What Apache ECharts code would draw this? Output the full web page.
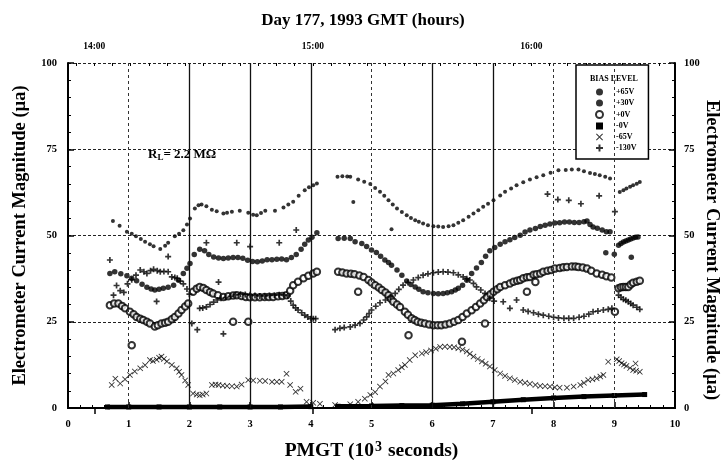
<!DOCTYPE html>
<html>
<head>
<meta charset="utf-8">
<script src="https://cdn.jsdelivr.net/npm/echarts@6/dist/echarts.min.js"></script>
<style>
  html, body { margin: 0; padding: 0; background: #fff; }
  #chart { width: 726px; height: 464px; }
</style>
</head>
<body>
<div id="chart"></div>
<script>
// ---- bias levels and axis text ----
const biasLevels = ['+65V', '+30V', '+0V', '-0V', '-65V', '-130V'];
const yTickValues = [0, 25, 50, 75, 100];
const hourValues = [14, 15, 16];
const hourLabels = ['14:00', '15:00', '16:00'];
const pmgtAtFirstHour = 0.433;      // PMGT (10^3 s) at 14:00 GMT
const solidGridX = [2, 3, 4, 6, 7];
const dashedGridX = [1, 5, 8, 9];
const yAxisTitle = 'Electrometer Current Magnitude (µa)';

// ---- electrometer current magnitude (µa) vs PMGT (10^3 s) ----
const p65 = [
  [0.74,54.2],[0.85,52.8],[0.97,51.1],[1.05,50.5],[1.12,49.8],[1.20,49.0],[1.27,48.2],[1.35,47.5],[1.41,46.9],[1.52,46.1],
  [1.60,47.0],[1.65,47.9],[1.76,49.8],[1.83,50.5],[1.90,51.5],[1.96,53.2],[2.01,54.9],[2.09,57.8],[2.15,58.8],[2.20,59.0],
  [2.28,58.5],[2.37,57.5],[2.45,57.0],[2.56,56.4],[2.62,56.6],[2.70,56.9],[2.83,57.2],[2.97,56.6],[3.05,56.0],[3.11,55.9],
  [3.18,56.5],[3.25,57.2],[3.41,57.2],[3.55,58.1],[3.63,59.0],[3.71,59.8],[3.80,61.5],[3.90,63.1],[3.97,64.0],[4.04,64.6],
  [4.10,65.1],
  [4.44,67.0],[4.52,67.2],[4.60,67.1],[4.65,67.0],[4.78,66.2],[4.88,65.6],[4.98,64.9],[5.06,63.8],[5.14,62.7],[5.21,61.5],
  [5.28,60.2],[5.35,59.0],[5.42,57.8],[5.50,56.8],[5.58,55.9],[5.65,55.1],[5.72,54.4],[5.78,54.0],[5.85,53.5],[5.93,53.0],
  [6.02,52.7],[6.10,52.6],[6.18,52.5],[6.27,52.7],[6.35,53.0],[6.43,53.7],[6.51,54.4],[6.60,55.4],[6.68,56.4],[6.76,57.3],
  [6.84,58.3],[6.92,59.2],[7.01,60.2],[7.12,61.6],[7.20,62.7],[7.30,63.6],[7.39,64.6],[7.50,65.4],[7.61,66.2],[7.72,66.9],
  [7.83,67.5],[7.95,68.2],[8.08,68.9],[8.20,69.0],[8.30,69.1],[8.41,69.1],[8.50,68.6],[8.60,68.1],[8.68,67.8],[8.76,67.5],
  [8.85,67.0],[8.93,66.5],
  [9.09,62.6],[9.15,63.1],[9.20,63.6],[9.26,64.1],[9.31,64.6],[9.37,65.0],[9.42,65.5],
  [4.70,59.7],[5.33,51.8]
];

const p30 = [
  [0.69,39.0],[0.77,39.5],[0.87,38.9],[0.97,38.3],[1.05,37.6],[1.13,36.9],[1.22,35.9],[1.30,35.0],[1.37,34.5],[1.43,34.2],
  [1.50,34.4],[1.57,34.7],[1.65,35.0],[1.74,35.6],[1.82,37.0],[1.90,39.0],[1.96,40.5],[2.01,41.9],[2.08,44.5],[2.17,46.0],
  [2.25,45.6],[2.32,44.5],[2.40,43.8],[2.48,43.5],[2.56,43.3],[2.64,43.5],[2.72,43.6],[2.80,43.6],[2.88,43.4],[2.96,42.8],
  [3.04,42.5],[3.12,42.4],[3.20,42.6],[3.28,43.0],[3.36,43.0],[3.44,43.1],[3.52,43.2],[3.60,43.0],[3.68,43.6],[3.76,44.5],
  [3.84,46.0],[3.90,47.5],[3.96,48.7],[4.02,49.5],[4.10,50.8],
  [4.45,49.1],[4.55,49.2],[4.65,49.1],[4.73,48.2],[4.84,47.7],[4.92,46.8],[5.00,45.8],[5.08,45.1],[5.15,44.0],[5.22,42.9],
  [5.28,42.2],[5.33,41.4],[5.42,40.0],[5.50,38.5],[5.58,36.8],[5.65,35.8],[5.72,35.1],[5.78,34.4],[5.85,33.7],[5.93,33.4],
  [6.02,33.2],[6.10,33.1],[6.18,33.2],[6.25,33.4],[6.32,33.7],[6.38,34.2],[6.43,34.7],[6.50,35.6],[6.57,37.0],[6.65,39.0],
  [6.73,40.6],[6.81,42.2],[6.88,44.0],[6.95,45.6],[7.03,46.5],[7.12,47.5],[7.20,48.2],[7.28,48.8],[7.36,49.4],[7.45,50.1],
  [7.53,51.0],[7.61,51.6],[7.70,52.0],[7.78,52.6],[7.86,53.0],[7.94,53.3],[8.02,53.6],[8.10,53.7],[8.18,53.9],[8.26,53.9],
  [8.34,53.8],[8.42,53.8],[8.50,54.0],[8.55,54.2],[8.60,53.2],[8.65,52.5],[8.72,52.1],[8.80,51.6],[8.87,51.1],[8.93,51.1],
  [9.07,47.2],[9.11,47.7],[9.15,48.1],[9.19,48.4],[9.23,48.7],[9.27,49.0],[9.31,49.3],[9.35,49.5],[9.39,49.6],
  [8.86,45.0],[9.00,44.6],[9.28,43.7]
];

const p0 = [
  [0.69,29.8],[0.76,30.3],[0.83,30.3],[0.89,29.6],[0.94,28.9],[1.02,27.9],[1.08,27.2],[1.13,26.4],[1.19,25.9],[1.24,25.5],
  [1.30,25.0],[1.35,24.5],[1.43,23.6],[1.48,24.0],[1.54,24.5],[1.60,24.7],[1.65,25.0],[1.71,25.7],[1.76,26.4],[1.82,27.4],
  [1.87,28.4],[1.93,29.4],[1.98,30.3],[2.06,33.7],[2.12,34.6],[2.17,35.1],[2.23,34.8],[2.28,34.2],[2.34,33.6],[2.39,33.2],
  [2.47,32.7],[2.56,32.2],[2.64,32.4],[2.72,32.6],[2.78,32.7],[2.86,32.5],[2.93,32.2],[3.00,32.1],[3.08,32.1],[3.16,32.1],
  [3.24,32.2],[3.31,32.2],[3.38,32.2],[3.46,32.4],[3.53,32.5],[3.60,32.7],[3.66,34.0],[3.71,35.6],[3.79,36.6],[3.88,37.6],
  [3.96,38.3],[4.04,39.0],[4.10,39.5],
  [4.45,39.5],[4.52,39.3],[4.59,39.0],[4.66,38.9],[4.72,38.8],[4.80,38.4],[4.87,38.0],[4.95,37.1],[5.00,36.4],[5.06,35.6],
  [5.12,34.9],[5.17,34.2],[5.23,33.5],[5.28,32.7],[5.32,31.7],[5.36,30.8],[5.42,30.0],[5.47,29.3],[5.55,27.9],[5.60,27.0],
  [5.66,26.0],[5.71,25.5],[5.76,25.0],[5.82,24.7],[5.88,24.5],[5.95,24.2],[6.02,24.0],[6.09,24.0],[6.15,24.0],[6.22,24.2],
  [6.29,24.5],[6.36,25.0],[6.43,25.5],[6.50,26.4],[6.57,27.4],[6.65,28.3],[6.72,29.3],[6.79,30.3],[6.85,31.2],[6.90,32.2],
  [6.96,33.0],[7.01,33.7],[7.07,34.4],[7.12,35.1],[7.20,35.6],[7.28,36.1],[7.34,36.6],[7.40,36.9],[7.45,37.1],[7.50,37.6],
  [7.56,37.9],[7.61,38.0],[7.67,38.6],[7.72,38.8],[7.78,39.0],[7.83,39.5],[7.90,39.8],[7.96,40.0],[8.02,40.4],[8.10,40.6],
  [8.16,40.8],[8.22,40.9],[8.30,41.0],[8.36,41.0],[8.41,40.9],[8.48,40.7],[8.55,40.4],[8.62,39.8],[8.71,39.0],[8.80,38.6],
  [8.87,38.2],[8.95,37.8],
  [9.07,34.7],[9.11,35.0],[9.15,35.1],[9.19,35.1],[9.23,35.1],[9.27,35.8],[9.31,36.3],[9.37,36.6],[9.42,36.9],
  [1.05,18.2],[2.72,25.0],[2.97,25.0],[4.78,33.7],[5.61,21.1],[6.49,19.2],[6.87,24.5],[7.56,33.7],[7.70,36.5],[9.01,27.9]
];

const m0 = [
  [0.65,0.3],[1.0,0.3],[1.5,0.3],[2.0,0.3],[2.5,0.3],[3.0,0.3],[3.5,0.3],[4.0,0.4],[4.2,null],
  [4.45,0.5],[5.0,0.6],[5.5,0.7],[6.0,0.8],[6.5,1.2],[7.0,1.8],[7.5,2.4],[8.0,2.9],[8.5,3.3],[9.0,3.6],[9.5,3.9]
];

const m65 = [
  [0.72,6.7],[0.78,8.5],[0.86,7.1],[0.94,8.3],[1.02,9.6],[1.10,10.6],[1.19,11.5],[1.27,12.4],[1.35,13.9],[1.40,13.6],
  [1.46,14.0],[1.50,14.6],[1.54,14.9],[1.58,14.2],[1.63,13.5],[1.71,12.5],[1.79,11.5],[1.83,10.5],[1.87,9.6],[1.93,8.0],
  [1.98,6.7],[2.06,4.2],[2.12,3.9],[2.17,3.7],[2.22,3.9],[2.28,4.2],[2.37,6.7],[2.43,6.8],[2.48,6.7],[2.55,6.5],
  [2.62,6.4],[2.70,6.3],[2.78,6.2],[2.86,6.8],[2.97,8.1],[3.05,8.0],[3.16,7.9],[3.25,7.8],[3.36,7.6],[3.44,7.6],
  [3.52,7.6],[3.60,9.9],[3.66,6.7],[3.75,4.7],[3.83,5.6],[3.93,1.8],[4.04,1.5],
  [4.15,1.2],[4.40,0.9],[4.65,1.1],[4.78,1.8],[4.89,2.7],[4.98,3.8],[5.06,4.6],[5.14,6.2],[5.23,7.7],[5.28,9.6],
  [5.36,10.0],[5.44,11.0],[5.50,11.8],[5.55,12.5],[5.63,13.9],[5.72,15.3],[5.83,15.8],[5.90,16.2],[5.98,16.7],[6.06,17.2],
  [6.13,17.7],[6.21,17.8],[6.29,17.7],[6.36,17.6],[6.43,17.3],[6.50,16.9],[6.57,16.4],[6.62,15.7],[6.68,14.9],[6.75,14.2],
  [6.82,13.5],[6.88,12.8],[6.95,12.0],[7.03,11.0],[7.12,10.0],[7.20,9.3],[7.28,8.6],[7.36,8.1],[7.45,7.6],[7.53,7.3],
  [7.61,7.0],[7.70,6.7],[7.78,6.4],[7.86,6.3],[7.94,6.2],[8.02,6.0],[8.10,5.9],[8.22,5.9],[8.33,6.2],[8.44,6.7],
  [8.50,7.3],[8.57,8.1],[8.64,8.3],[8.71,8.6],[8.77,9.1],[8.82,9.6],
  [9.04,14.1],[9.08,13.6],[9.12,13.0],[9.16,12.6],[9.20,12.2],[9.26,11.6],[9.31,11.0],[9.36,10.8],[9.42,10.5],
  [8.90,13.4],[9.35,12.9]
];

const m130 = [
  [0.75,32.7],[0.80,35.5],[0.86,34.0],[0.92,33.5],[0.98,36.0],[1.05,37.2],[1.12,38.5],[1.19,40.0],[1.25,39.5],[1.30,39.0],
  [1.36,39.8],[1.41,40.2],[1.47,39.8],[1.52,39.5],[1.58,39.6],[1.65,39.5],[1.71,38.0],[1.76,37.8],[1.80,37.6],[1.85,36.8],
  [1.90,36.0],[1.96,34.5],[2.00,33.0],
  [2.04,24.5],[2.13,22.7],[2.17,28.9],[2.22,29.0],[2.28,29.3],[2.34,30.0],[2.40,30.7],[2.46,31.3],[2.52,31.8],[2.60,32.0],
  [2.68,32.4],[2.76,32.8],[2.84,33.0],[2.92,32.9],[3.00,32.8],[3.08,32.6],[3.16,32.5],[3.24,32.5],[3.32,32.6],[3.40,32.7],
  [3.48,32.8],[3.56,32.8],[3.62,32.5],[3.67,31.0],[3.71,29.8],[3.75,29.0],[3.79,28.4],[3.85,27.6],[3.90,26.9],[3.95,26.4],
  [4.00,25.9],[4.04,25.9],[4.08,25.9],
  [4.40,22.7],[4.48,23.1],[4.55,23.3],[4.65,23.5],[4.73,24.0],[4.81,24.5],[4.87,25.5],[4.92,26.4],[4.96,27.4],[5.00,28.4],
  [5.07,29.5],[5.14,30.5],[5.23,31.3],[5.31,32.2],[5.39,33.2],[5.45,34.4],[5.52,35.6],[5.60,36.4],[5.69,37.1],[5.77,37.8],
  [5.85,38.5],[5.93,38.9],[6.02,39.2],[6.10,39.4],[6.18,39.5],[6.26,39.4],[6.35,39.2],[6.43,38.6],[6.51,38.0],[6.57,37.5],
  [6.62,37.1],[6.68,36.1],[6.73,35.1],[6.80,34.2],[6.87,33.2],[6.95,31.8],[7.02,31.0],
  [7.17,30.8],[7.28,28.9],[7.39,31.3],[7.50,28.4],[7.58,28.0],[7.67,27.6],[7.75,27.2],[7.83,26.9],[7.92,26.6],[8.00,26.3],
  [8.08,26.1],[8.17,26.0],[8.25,26.0],[8.33,26.0],[8.42,26.3],[8.50,26.6],[8.58,27.2],[8.65,27.9],[8.73,28.1],[8.82,28.4],
  [8.90,28.6],[8.96,28.9],
  [9.07,32.7],[9.11,32.1],[9.15,31.5],[9.19,31.2],[9.23,30.8],[9.27,30.3],[9.31,29.8],[9.37,29.2],[9.42,28.6],
  [0.69,42.9],[1.65,43.9],[1.46,30.9],[2.28,47.9],[2.48,36.5],[2.56,21.5],[2.78,47.9],[3.00,46.8],[3.48,47.9],[3.76,51.6],
  [7.90,62.0],[8.07,60.4],[8.25,60.2],[8.45,59.2],[8.75,61.5],[9.01,56.9]
];

// ---- drawing ----
const ink = '#000';
const serif = '"Liberation Serif", "DejaVu Serif", serif';
const crossPath = 'path://M1,0L5,4L9,0L10,1L6,5L10,9L9,10L5,6L1,10L0,9L4,5L0,1Z';
const plusPath = 'path://M3.6,0H6.4V3.6H10V6.4H6.4V10H3.6V6.4H0V3.6H3.6Z';

// top GMT axis shares the PMGT scale: 1 hour = 3.6 x 10^3 s
const hourMin = hourValues[0] - pmgtAtFirstHour / 3.6;
const hourMax = hourMin + 10 / 3.6;
const fiveMinTicks = [];
for (let m = Math.ceil(hourMin * 12); m <= Math.floor(hourMax * 12); m++) fiveMinTicks.push(m / 12);

const vGrid = solidGridX.map(v => ({ xAxis: v, lineStyle: { type: 'solid', width: 1.3, color: '#111' } }))
  .concat(dashedGridX.map(v => ({ xAxis: v, lineStyle: { type: [3, 3], width: 1, color: '#333' } })));

const labelFont = { color: ink, fontFamily: serif, fontWeight: 'bold', fontSize: 10.5 };
const nameFont = { color: ink, fontFamily: serif, fontWeight: 'bold', fontSize: 18.5 };

const chart = echarts.init(document.getElementById('chart'), null, { renderer: 'canvas' });
chart.setOption({
  animation: false,
  backgroundColor: '#fff',
  title: {
    text: 'Day 177, 1993 GMT (hours)',
    left: 'center', top: 7,
    textStyle: { color: ink, fontFamily: serif, fontWeight: 'bold', fontSize: 17 }
  },
  grid: { left: 68, right: 51, top: 63, bottom: 56, outerBoundsMode: 'none' },
  legend: {
    orient: 'vertical',
    left: 576, top: 65,
    padding: [23, 12, 7, 19],
    itemGap: 3,
    itemWidth: 7, itemHeight: 7,
    borderColor: ink, borderWidth: 1.5,
    backgroundColor: '#fff',
    textStyle: { color: ink, fontFamily: serif, fontWeight: 'bold', fontSize: 8, padding: [0, 0, 0, 8] },
    data: biasLevels.map((n, i) => i === 3 ? { name: n, icon: 'rect' } : { name: n })
  },
  graphic: [
    { type: 'text', left: 590, top: 75, z: 100,
      style: { text: 'BIAS LEVEL', fill: ink, font: 'bold 8px ' + serif } },
    { type: 'text', left: 148, top: 148, z: 100,
      style: {
        text: '{r|R}{s|L}{r|= 2.2 MΩ}',
        rich: {
          r: { fill: ink, font: 'bold 13px ' + serif },
          s: { fill: ink, font: 'bold 9px ' + serif, padding: [6, 0, 0, 0] }
        }
      } },
    // right-hand axis title, reading top to bottom
    { type: 'text', x: 712, y: 250, rotation: -Math.PI / 2, z: 100,
      style: { text: yAxisTitle, fill: ink, font: 'bold 18.5px ' + serif, align: 'center', verticalAlign: 'middle' } }
  ],
  xAxis: [
    {
      type: 'value', position: 'bottom', min: 0, max: 10, interval: 1,
      axisLine: { lineStyle: { color: ink, width: 2 } },
      axisTick: { inside: true, length: 6, lineStyle: { color: ink, width: 1.5 } },
      minorTick: { show: true, splitNumber: 5, length: 3, lineStyle: { color: ink, width: 1 } },
      axisLabel: Object.assign({ margin: 11 }, labelFont),
      splitLine: { show: false },
      name: '{n|PMGT (10}{sup|3}{n| seconds)}', nameLocation: 'middle', nameGap: 32,
      nameTextStyle: {
        rich: {
          n: { color: ink, fontFamily: serif, fontWeight: 'bold', fontSize: 19.5 },
          sup: { color: ink, fontFamily: serif, fontWeight: 'bold', fontSize: 14, padding: [0, 1, 8, 1] }
        }
      }
    },
    {
      type: 'value', position: 'top', min: hourMin, max: hourMax,
      axisLine: { lineStyle: { color: ink, width: 2 } },
      axisTick: { inside: true, length: 6, customValues: hourValues, lineStyle: { color: ink, width: 1.5 } },
      axisLabel: Object.assign({ margin: 11, customValues: hourValues,
        formatter: v => hourLabels[hourValues.indexOf(Math.round(v))] }, labelFont, { fontSize: 9.5 }),
      splitLine: { show: false }
    },
    {
      type: 'value', position: 'top', min: hourMin, max: hourMax,
      axisLine: { show: false },
      axisTick: { inside: true, length: 3, customValues: fiveMinTicks, lineStyle: { color: ink, width: 1 } },
      axisLabel: { show: false },
      splitLine: { show: false }
    }
  ],
  yAxis: [
    {
      type: 'value', position: 'left', min: 0, max: 100, interval: 25,
      axisLine: { lineStyle: { color: ink, width: 2 } },
      axisTick: { inside: true, length: 6, lineStyle: { color: ink, width: 1.5 } },
      minorTick: { show: true, splitNumber: 5, length: 3, lineStyle: { color: ink, width: 1 } },
      axisLabel: Object.assign({ margin: 11, formatter: v => yTickValues.includes(v) ? String(v) : '' }, labelFont),
      splitLine: { show: true, lineStyle: { color: '#222', type: [3, 2], width: 1 } },
      name: yAxisTitle, nameLocation: 'middle', nameGap: 38,
      nameTextStyle: nameFont
    },
    {
      type: 'value', position: 'right', min: 0, max: 100, interval: 25,
      axisLine: { lineStyle: { color: ink, width: 2 } },
      axisTick: { inside: true, length: 6, lineStyle: { color: ink, width: 1.5 } },
      minorTick: { show: true, splitNumber: 5, length: 3, lineStyle: { color: ink, width: 1 } },
      axisLabel: Object.assign({ margin: 9 }, labelFont),
      splitLine: { show: false }
    }
  ],
  series: [
    {
      name: biasLevels[0], type: 'scatter', data: p65,
      symbol: 'circle', symbolSize: 4, itemStyle: { color: ink },
      markLine: { silent: true, symbol: ['none', 'none'], label: { show: false }, data: vGrid }
    },
    { name: biasLevels[1], type: 'scatter', data: p30,
      symbol: 'circle', symbolSize: 5.5, itemStyle: { color: ink } },
    { name: biasLevels[2], type: 'scatter', data: p0,
      symbol: 'emptyCircle', symbolSize: 6.5, itemStyle: { color: ink, borderColor: ink, borderWidth: 1.8 } },
    { name: biasLevels[3], type: 'line', data: m0, connectNulls: false,
      symbol: 'rect', symbolSize: 5, showSymbol: true,
      lineStyle: { color: ink, width: 4.5 }, itemStyle: { color: ink } },
    { name: biasLevels[4], type: 'scatter', data: m65,
      symbol: crossPath, symbolSize: 6, itemStyle: { color: ink } },
    { name: biasLevels[5], type: 'scatter', data: m130,
      symbol: plusPath, symbolSize: 6, itemStyle: { color: ink } }
  ]
});
</script>
</body>
</html>
